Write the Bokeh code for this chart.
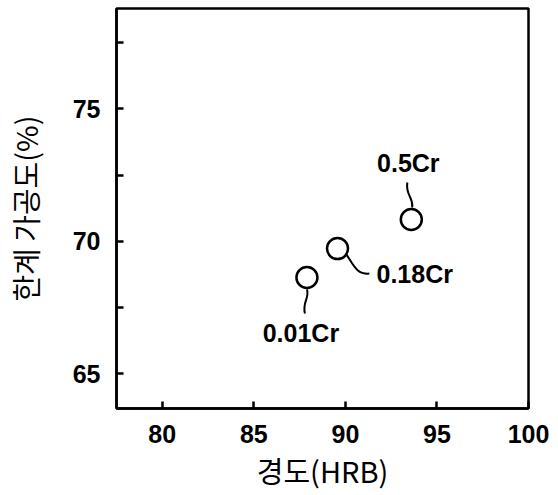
from bokeh.plotting import figure
from bokeh.models import Range1d, FixedTicker, ColumnDataSource
from bokeh.core.properties import value
from bokeh.embed import file_html
from bokeh.resources import INLINE

# ---- data ----
labels = ["0.01Cr", "0.18Cr", "0.5Cr"]
hardness = [87.9, 89.57, 93.6]
workability = [68.63, 69.72, 70.82]
x_ticks = [80, 85, 90, 95, 100]
y_ticks = [65, 70, 75]

# ---- layout ----
W, H = 558, 495
BL, BR, BT, BB = 114, 30, 8, 87
X0, X1 = 77.5, 100.0
Y0, Y1 = 63.68, 78.79
FW, FH = W - BL - BR, H - BT - BB
px_x = (X1 - X0) / FW
px_y = (Y1 - Y0) / FH

p = figure(width=W, height=H, output_backend="svg", toolbar_location=None,
           x_range=Range1d(X0, X1), y_range=Range1d(Y0, Y1),
           min_border_left=BL, min_border_right=BR, min_border_top=BT, min_border_bottom=BB)
p.background_fill_color = "white"
p.border_fill_color = "white"
p.grid.visible = False
p.outline_line_color = "black"
p.outline_line_width = 2.5

NUM_FONT = "Liberation Sans"
KR_FONT = "Noto Sans CJK KR"

p.xaxis.ticker = FixedTicker(ticks=x_ticks)
p.yaxis.ticker = FixedTicker(ticks=y_ticks, minor_ticks=[67.5, 72.5, 77.5])
for ax in (p.xaxis[0], p.yaxis[0]):
    ax.axis_line_color = "black"
    ax.axis_line_width = 2.5
    ax.major_tick_in = 7
    ax.major_tick_out = 0
    ax.major_tick_line_width = 2.5
    ax.major_tick_line_color = "black"
    ax.major_label_text_font = NUM_FONT
    ax.major_label_text_font_size = "25px"
    ax.major_label_text_font_style = "bold"
    ax.major_label_text_color = "black"
    ax.axis_label_text_font = KR_FONT
    ax.axis_label_text_font_size = "29px"
    ax.axis_label_text_font_style = "normal"
    ax.axis_label_text_color = "black"
p.xaxis.minor_tick_line_color = None
p.yaxis.minor_tick_in = 7
p.yaxis.minor_tick_out = 0
p.yaxis.minor_tick_line_width = 2.5
p.yaxis.minor_tick_line_color = "black"

p.xaxis.major_label_standoff = 16
p.yaxis.major_label_standoff = 16
p.xaxis.axis_label = "경도(HRB)"
p.yaxis.axis_label = "한계 가공도(%)"
p.xaxis.axis_label_standoff = 3
p.yaxis.axis_label_standoff = 24

# leader curves: pixel offsets (screen, y down) from each point: start, cp1, cp2, end
leaders = {
    "0.01Cr": [(0, 12), (3, 20), (-5, 25), (-2, 36)],
    "0.18Cr": [(9, 6), (16, 16), (19, 26), (32, 25)],
    "0.5Cr": [(1, -12), (2, -23), (-6, -24), (-4, -37)],
}
bz = dict(x0=[], y0=[], x1=[], y1=[], cx0=[], cy0=[], cx1=[], cy1=[])
for lab, x, y in zip(labels, hardness, workability):
    (sx, sy), (ax_, ay), (bx, by), (ex, ey) = leaders[lab]
    bz["x0"].append(x + sx * px_x); bz["y0"].append(y - sy * px_y)
    bz["cx0"].append(x + ax_ * px_x); bz["cy0"].append(y - ay * px_y)
    bz["cx1"].append(x + bx * px_x); bz["cy1"].append(y - by * px_y)
    bz["x1"].append(x + ex * px_x); bz["y1"].append(y - ey * px_y)
p.bezier(x0="x0", y0="y0", x1="x1", y1="y1", cx0="cx0", cy0="cy0", cx1="cx1", cy1="cy1",
         source=ColumnDataSource(bz), line_color="black", line_width=2)

p.scatter(hardness, workability, marker="circle", size=21, fill_color="white",
          line_color="black", line_width=2.5)

# labels
lab_off = {"0.01Cr": (-6, 55.5, "center"), "0.18Cr": (39, 25, "left"), "0.5Cr": (-3, -56.5, "center")}
for lab, x, y in zip(labels, hardness, workability):
    dx, dy, al = lab_off[lab]
    p.text([x], [y], text=[lab], x_offset=dx, y_offset=dy, text_align=al,
           text_baseline="middle", text_font=value(NUM_FONT), text_font_size="25px",
           text_font_style="bold", text_color="black")

open("out.html", "w").write(file_html(p, INLINE))
